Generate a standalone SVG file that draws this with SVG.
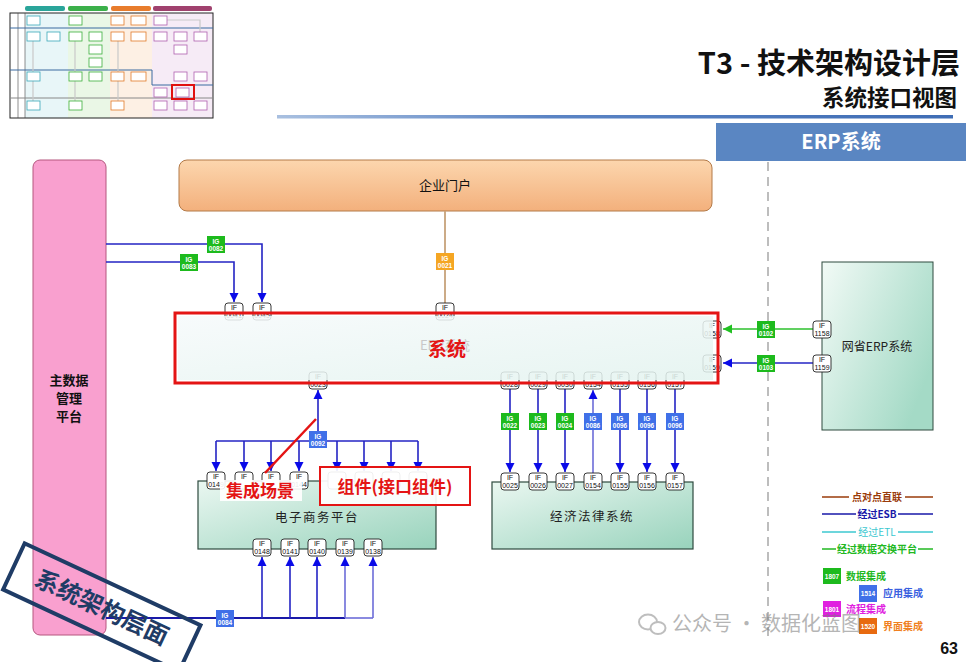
<svg xmlns="http://www.w3.org/2000/svg" width="970" height="662" viewBox="0 0 970 662">
<style>
text{font-family:"Liberation Sans","Noto Sans CJK SC",sans-serif}
.cjk{font-family:"Noto Sans CJK SC","Liberation Sans",sans-serif}
.ifb rect{fill:#fff;stroke:#222;stroke-width:0.9}
.ifb text{font-size:7px;text-anchor:middle;fill:#111}
.ig text{font-size:6.5px;text-anchor:middle;fill:#fff;font-weight:bold}
.igG rect{fill:#1dba1d}
.igB rect{fill:#4070e8}
.igO rect{fill:#f5a623}
.bl{stroke:#2424c4;stroke-width:1.6;fill:none}
.blp{stroke:#6c6cd8;stroke-width:1.6;fill:none}
.gr{stroke:#2cc02c;stroke-width:1.6;fill:none}
.doc{fill:#fff;stroke-width:0.8}
</style>
<defs>
<marker id="aB" viewBox="0 0 10 10" refX="10" refY="5" markerWidth="9" markerHeight="10" markerUnits="userSpaceOnUse" orient="auto"><path d="M0,0 L10,5 L0,10 z" fill="#0a0ae8"/></marker>
<marker id="aG" viewBox="0 0 10 10" refX="10" refY="5" markerWidth="9" markerHeight="10" markerUnits="userSpaceOnUse" orient="auto"><path d="M0,0 L10,5 L0,10 z" fill="#22c022"/></marker>
<linearGradient id="gOr" x1="0" y1="0" x2="0" y2="1"><stop offset="0" stop-color="#fcd6ae"/><stop offset="1" stop-color="#f3b07c"/></linearGradient>
<linearGradient id="gTe" x1="0" y1="0" x2="1" y2="1"><stop offset="0" stop-color="#eaf7f1"/><stop offset="1" stop-color="#98d3bc"/></linearGradient>
<linearGradient id="gEr" x1="0" y1="0" x2="1" y2="0.6"><stop offset="0" stop-color="#f2faf6"/><stop offset="1" stop-color="#a4dac6"/></linearGradient>
<linearGradient id="gMain" x1="0" y1="0" x2="1" y2="1"><stop offset="0" stop-color="#f6fafb"/><stop offset="1" stop-color="#e3f3ef"/></linearGradient>
<linearGradient id="gLine" x1="0" y1="0" x2="1" y2="0"><stop offset="0" stop-color="#a9c0e0"/><stop offset="0.4" stop-color="#5b84c4"/><stop offset="1" stop-color="#3f6db5"/></linearGradient>
</defs>

<!-- thumbnail -->
<g id="thumbnail">
<rect x="25" y="13" width="43" height="105" fill="#e8f6f8"/>
<rect x="68" y="13" width="42" height="105" fill="#eaf7e6"/>
<rect x="110" y="13" width="42" height="105" fill="#fdf0e4"/>
<rect x="152" y="13" width="61" height="105" fill="#f6ebf6"/>
<rect x="25" y="6" width="40" height="5" rx="2" fill="#2aa59a"/>
<rect x="68" y="6" width="40" height="5" rx="2" fill="#3bb04a"/>
<rect x="111" y="6" width="40" height="5" rx="2" fill="#e87c2c"/>
<rect x="153" y="6" width="59" height="5" rx="2" fill="#a0416e"/>
<rect x="10" y="13" width="203" height="105" fill="none" stroke="#222" stroke-width="1"/>
<line x1="18" y1="13" x2="18" y2="118" stroke="#444" stroke-width="0.6"/>
<line x1="25" y1="13" x2="25" y2="118" stroke="#444" stroke-width="0.6"/>
<line x1="10" y1="28" x2="213" y2="28" stroke="#3a6aa0" stroke-width="1"/>
<path d="M10,70 H152 V85 H213" stroke="#3a6aa0" stroke-width="1" fill="none"/>
<line x1="10" y1="98" x2="213" y2="98" stroke="#888" stroke-width="1"/>
<g stroke="#c9c9c9" stroke-width="1.2" fill="none"><path d="M33,41 V101"/><path d="M75,41 V101"/><path d="M118,41 V101"/><path d="M167,20 H200 V40"/></g>
<g class="doc" stroke="#3aa8b8"><rect x="27" y="16" width="13" height="9"/><rect x="27" y="32" width="13" height="9"/><rect x="47" y="32" width="13" height="9"/><rect x="27" y="72" width="13" height="9"/><rect x="27" y="101" width="13" height="9"/></g>
<g class="doc" stroke="#3cb03c"><rect x="69" y="16" width="13" height="9"/><rect x="69" y="32" width="13" height="9"/><rect x="89" y="32" width="13" height="9"/><rect x="89" y="45" width="13" height="9"/><rect x="89" y="58" width="13" height="9"/><rect x="69" y="72" width="13" height="9"/><rect x="89" y="72" width="13" height="9"/><rect x="69" y="101" width="13" height="9"/></g>
<g class="doc" stroke="#e07a2a"><rect x="111" y="16" width="13" height="9"/><rect x="131" y="16" width="15" height="9"/><rect x="111" y="32" width="13" height="9"/><rect x="131" y="32" width="15" height="9"/><rect x="111" y="72" width="13" height="9"/><rect x="131" y="72" width="15" height="9"/><rect x="111" y="101" width="13" height="9"/></g>
<g class="doc" stroke="#b060b0"><rect x="154" y="16" width="13" height="9"/><rect x="154" y="32" width="13" height="9"/><rect x="174" y="32" width="13" height="9"/><rect x="194" y="32" width="13" height="9"/><rect x="174" y="45" width="13" height="9"/><rect x="174" y="72" width="13" height="9"/><rect x="194" y="72" width="13" height="9"/><rect x="154" y="88" width="13" height="9"/><rect x="176" y="88" width="13" height="9"/><rect x="154" y="101" width="13" height="9"/><rect x="174" y="101" width="13" height="9"/><rect x="194" y="101" width="13" height="9"/></g>
<rect x="172" y="85" width="22" height="14" fill="none" stroke="#e01010" stroke-width="2"/>
</g>

<!-- title -->
<g id="title">
<text x="960" y="74" text-anchor="end" class="cjk" font-size="29" font-weight="bold" fill="#111">T3 - 技术架构设计层</text>
<text x="957" y="106" text-anchor="end" class="cjk" font-size="22.5" font-weight="bold" fill="#111">系统接口视图</text>
<rect x="277" y="115" width="676" height="3.5" fill="url(#gLine)"/>
</g>
<g id="erp-header">
<rect x="716" y="123" width="250" height="38" fill="#5a86c2"/>
<text x="841" y="149" text-anchor="middle" class="cjk" font-size="20" font-weight="bold" fill="#fff">ERP系统</text>
</g>

<line x1="768" y1="162" x2="768" y2="640" stroke="#9a9a9a" stroke-width="1.3" stroke-dasharray="9,6"/>

<!-- nodes -->
<g id="mdm">
<rect x="33" y="160" width="73" height="475" rx="7" fill="#f9a0cf" stroke="#b5577f" stroke-width="1"/>
<text x="69" y="385" text-anchor="middle" class="cjk" font-size="13" font-weight="bold" fill="#111">主数据</text>
<text x="69" y="403" text-anchor="middle" class="cjk" font-size="13" font-weight="bold" fill="#111">管理</text>
<text x="69" y="421" text-anchor="middle" class="cjk" font-size="13" font-weight="bold" fill="#111">平台</text>
</g>

<g id="portal">
<rect x="179" y="160" width="533" height="51" rx="8" fill="url(#gOr)" stroke="#b37a48" stroke-width="1"/>
<text x="445" y="190" text-anchor="middle" class="cjk" font-size="13" fill="#111">企业门户</text>
</g>

<g id="ecommerce">
<rect x="198" y="481" width="238" height="68" fill="url(#gTe)" stroke="#2e4a3e" stroke-width="1.2"/>
<text x="317" y="522" text-anchor="middle" class="cjk" font-size="12.5" fill="#222" letter-spacing="1.5">电子商务平台</text>
</g>

<g id="legal">
<rect x="492" y="482" width="201" height="67" fill="url(#gTe)" stroke="#2e4a3e" stroke-width="1.2"/>
<text x="592" y="521" text-anchor="middle" class="cjk" font-size="12.5" fill="#222" letter-spacing="1.5">经济法律系统</text>
</g>

<g id="provincial-erp">
<rect x="822" y="262" width="111" height="168" fill="url(#gEr)" stroke="#2e4a3e" stroke-width="1"/>
<text x="877" y="351" text-anchor="middle" class="cjk" font-size="12" fill="#222">网省ERP系统</text>
</g>

<!-- connectors -->
<g id="connectors">
<path class="bl" d="M106,244 H262 V302" marker-end="url(#aB)"/>
<path class="bl" d="M106,262 H234 V302" marker-end="url(#aB)"/>
<path d="M445,211 V303" stroke="#c7a27a" stroke-width="1.8" fill="none"/>
<path class="gr" d="M813,329 H723" marker-end="url(#aG)"/>
<path class="bl" d="M813,363 H723" marker-end="url(#aB)"/>
<path class="bl" d="M216,441 H418"/>
<path class="bl" d="M318,441 V390" marker-end="url(#aB)"/>
<path class="bl" d="M216,441 V471" marker-end="url(#aB)"/>
<path class="bl" d="M244,441 V471" marker-end="url(#aB)"/>
<path class="bl" d="M271,441 V471" marker-end="url(#aB)"/>
<path class="bl" d="M299,441 V471" marker-end="url(#aB)"/>
<path class="bl" d="M337,441 V471" marker-end="url(#aB)"/>
<path class="bl" d="M364,441 V471" marker-end="url(#aB)"/>
<path class="bl" d="M391,441 V471" marker-end="url(#aB)"/>
<path class="bl" d="M418,441 V471" marker-end="url(#aB)"/>
<path d="M106,618 H345" stroke="#1a1aa8" stroke-width="2" fill="none"/>
<path class="blp" d="M345,618 H373"/>
<path class="bl" d="M262,618 V557" marker-end="url(#aB)"/>
<path class="bl" d="M290,618 V557" marker-end="url(#aB)"/>
<path class="bl" d="M317,618 V557" marker-end="url(#aB)"/>
<path class="blp" d="M345,618 V557" marker-end="url(#aB)"/>
<path class="blp" d="M373,618 V557" marker-end="url(#aB)"/>
<path class="bl" d="M510,389 V472" marker-end="url(#aB)"/>
<path class="bl" d="M538,389 V472" marker-end="url(#aB)"/>
<path class="bl" d="M565,389 V472" marker-end="url(#aB)"/>
<path class="blp" d="M593,473 V390" marker-end="url(#aB)"/>
<path class="bl" d="M620,389 V472" marker-end="url(#aB)"/>
<path class="bl" d="M647,389 V472" marker-end="url(#aB)"/>
<path class="bl" d="M675,389 V472" marker-end="url(#aB)"/>
</g>

<!-- IF boxes that the ERP box overlaps -->
<g id="if-erp">
<g class="ifb" transform="translate(225,303)"><rect width="18" height="17" rx="3"/><text x="9" y="7">IF</text><text x="9" y="15">0041</text></g>
<g class="ifb" transform="translate(253,303)"><rect width="18" height="17" rx="3"/><text x="9" y="7">IF</text><text x="9" y="15">0045</text></g>
<g class="ifb" transform="translate(436,303)"><rect width="18" height="17" rx="3"/><text x="9" y="7">IF</text><text x="9" y="15">0024</text></g>
<g class="ifb" transform="translate(309,372)"><rect width="18" height="17" rx="3"/><text x="9" y="7">IF</text><text x="9" y="15">0023</text></g>
<g class="ifb" transform="translate(501,372)"><rect width="18" height="17" rx="3"/><text x="9" y="7">IF</text><text x="9" y="15">0028</text></g>
<g class="ifb" transform="translate(529,372)"><rect width="18" height="17" rx="3"/><text x="9" y="7">IF</text><text x="9" y="15">0029</text></g>
<g class="ifb" transform="translate(556,372)"><rect width="18" height="17" rx="3"/><text x="9" y="7">IF</text><text x="9" y="15">0030</text></g>
<g class="ifb" transform="translate(584,372)"><rect width="18" height="17" rx="3"/><text x="9" y="7">IF</text><text x="9" y="15">0154</text></g>
<g class="ifb" transform="translate(611,372)"><rect width="18" height="17" rx="3"/><text x="9" y="7">IF</text><text x="9" y="15">0155</text></g>
<g class="ifb" transform="translate(638,372)"><rect width="18" height="17" rx="3"/><text x="9" y="7">IF</text><text x="9" y="15">0156</text></g>
<g class="ifb" transform="translate(666,372)"><rect width="18" height="17" rx="3"/><text x="9" y="7">IF</text><text x="9" y="15">0157</text></g>
<g class="ifb" transform="translate(703,321)"><rect width="18" height="17" rx="3"/><text x="9" y="7">IF</text><text x="9" y="15">0158</text></g>
<g class="ifb" transform="translate(703,355)"><rect width="18" height="17" rx="3"/><text x="9" y="7">IF</text><text x="9" y="15">0159</text></g>
</g>

<g id="erp-system">
<rect x="178" y="316" width="535" height="64" fill="url(#gMain)" fill-opacity="0.86"/>
<text x="445" y="350" text-anchor="middle" class="cjk" font-size="13" fill="#c8c8c8">ERP系统</text>
<rect x="175" y="313" width="543" height="70" fill="none" stroke="#e41414" stroke-width="3"/>
<text x="447" y="356" text-anchor="middle" class="cjk" font-size="19" font-weight="bold" fill="#e41414">系统</text>
</g>

<!-- other IF boxes -->
<g id="if-other">
<g class="ifb" transform="translate(813,321)"><rect width="18" height="17" rx="3"/><text x="9" y="7">IF</text><text x="9" y="15">1158</text></g>
<g class="ifb" transform="translate(813,355)"><rect width="18" height="17" rx="3"/><text x="9" y="7">IF</text><text x="9" y="15">1159</text></g>
<g class="ifb" transform="translate(207,472)"><rect width="18" height="17" rx="3"/><text x="9" y="7">IF</text><text x="9" y="15">0149</text></g>
<g class="ifb" transform="translate(235,472)"><rect width="18" height="17" rx="3"/><text x="9" y="7">IF</text></g>
<g class="ifb" transform="translate(262,472)"><rect width="18" height="17" rx="3"/><text x="9" y="7">IF</text></g>
<g class="ifb" transform="translate(290,472)"><rect width="18" height="17" rx="3"/><text x="9" y="7">IF</text><text x="9" y="15">0144</text></g>
<g class="ifb" transform="translate(328,472)"><rect width="18" height="17" rx="3"/></g>
<g class="ifb" transform="translate(355,472)"><rect width="18" height="17" rx="3"/></g>
<g class="ifb" transform="translate(382,472)"><rect width="18" height="17" rx="3"/></g>
<g class="ifb" transform="translate(409,472)"><rect width="18" height="17" rx="3"/></g>
<g class="ifb" transform="translate(253,539)"><rect width="18" height="17" rx="3"/><text x="9" y="7">IF</text><text x="9" y="15">0148</text></g>
<g class="ifb" transform="translate(281,539)"><rect width="18" height="17" rx="3"/><text x="9" y="7">IF</text><text x="9" y="15">0141</text></g>
<g class="ifb" transform="translate(308,539)"><rect width="18" height="17" rx="3"/><text x="9" y="7">IF</text><text x="9" y="15">0140</text></g>
<g class="ifb" transform="translate(336,539)"><rect width="18" height="17" rx="3"/><text x="9" y="7">IF</text><text x="9" y="15">0139</text></g>
<g class="ifb" transform="translate(364,539)"><rect width="18" height="17" rx="3"/><text x="9" y="7">IF</text><text x="9" y="15">0138</text></g>
<g class="ifb" transform="translate(501,473)"><rect width="18" height="17" rx="3"/><text x="9" y="7">IF</text><text x="9" y="15">0025</text></g>
<g class="ifb" transform="translate(529,473)"><rect width="18" height="17" rx="3"/><text x="9" y="7">IF</text><text x="9" y="15">0026</text></g>
<g class="ifb" transform="translate(556,473)"><rect width="18" height="17" rx="3"/><text x="9" y="7">IF</text><text x="9" y="15">0027</text></g>
<g class="ifb" transform="translate(584,473)"><rect width="18" height="17" rx="3"/><text x="9" y="7">IF</text><text x="9" y="15">0154</text></g>
<g class="ifb" transform="translate(611,473)"><rect width="18" height="17" rx="3"/><text x="9" y="7">IF</text><text x="9" y="15">0155</text></g>
<g class="ifb" transform="translate(638,473)"><rect width="18" height="17" rx="3"/><text x="9" y="7">IF</text><text x="9" y="15">0156</text></g>
<g class="ifb" transform="translate(666,473)"><rect width="18" height="17" rx="3"/><text x="9" y="7">IF</text><text x="9" y="15">0157</text></g>
</g>

<!-- IG labels -->
<g id="ig-labels">
<g class="ig igG" transform="translate(207,236)"><rect width="18" height="17"/><text x="9" y="7.5">IG</text><text x="9" y="15">0082</text></g>
<g class="ig igG" transform="translate(180,254)"><rect width="18" height="17"/><text x="9" y="7.5">IG</text><text x="9" y="15">0083</text></g>
<g class="ig igO" transform="translate(436,253)"><rect width="18" height="17"/><text x="9" y="7.5">IG</text><text x="9" y="15">0021</text></g>
<g class="ig igG" transform="translate(757,321)"><rect width="18" height="17"/><text x="9" y="7.5">IG</text><text x="9" y="15">0102</text></g>
<g class="ig igG" transform="translate(757,355)"><rect width="18" height="17"/><text x="9" y="7.5">IG</text><text x="9" y="15">0103</text></g>
<g class="ig igB" transform="translate(309,431)"><rect width="18" height="17"/><text x="9" y="7.5">IG</text><text x="9" y="15">0092</text></g>
<g class="ig igB" transform="translate(216,610)"><rect width="18" height="17"/><text x="9" y="7.5">IG</text><text x="9" y="15">0084</text></g>
<g class="ig igG" transform="translate(501,413)"><rect width="18" height="17"/><text x="9" y="7.5">IG</text><text x="9" y="15">0022</text></g>
<g class="ig igG" transform="translate(529,413)"><rect width="18" height="17"/><text x="9" y="7.5">IG</text><text x="9" y="15">0023</text></g>
<g class="ig igG" transform="translate(556,413)"><rect width="18" height="17"/><text x="9" y="7.5">IG</text><text x="9" y="15">0024</text></g>
<g class="ig igB" transform="translate(584,413)"><rect width="18" height="17"/><text x="9" y="7.5">IG</text><text x="9" y="15">0086</text></g>
<g class="ig igB" transform="translate(611,413)"><rect width="18" height="17"/><text x="9" y="7.5">IG</text><text x="9" y="15">0096</text></g>
<g class="ig igB" transform="translate(638,413)"><rect width="18" height="17"/><text x="9" y="7.5">IG</text><text x="9" y="15">0096</text></g>
<g class="ig igB" transform="translate(666,413)"><rect width="18" height="17"/><text x="9" y="7.5">IG</text><text x="9" y="15">0096</text></g>
</g>

<!-- annotations -->
<g id="annotations">
<line x1="316" y1="419" x2="265" y2="473" stroke="#e41414" stroke-width="2.5"/>
<rect x="220" y="480" width="82" height="21" fill="#fff" fill-opacity="0.9"/>
<text x="260" y="497" text-anchor="middle" class="cjk" font-size="17" font-weight="bold" fill="#e41414">集成场景</text>
<rect x="320" y="467" width="150" height="38" fill="#fff" fill-opacity="0.92" stroke="#e41414" stroke-width="2"/>
<text x="395" y="493" text-anchor="middle" class="cjk" font-size="17" font-weight="bold" fill="#e41414">组件(接口组件)</text>
</g>

<!-- legend -->
<g id="legend">
<line x1="822" y1="497" x2="933" y2="497" stroke="#9a3b0a" stroke-width="1.3"/>
<rect x="849" y="490" width="56" height="13" fill="#fff"/>
<text x="877" y="501" text-anchor="middle" class="cjk" font-size="10" font-weight="bold" fill="#9a3b0a">点对点直联</text>
<line x1="822" y1="514" x2="933" y2="514" stroke="#1818a8" stroke-width="1.3"/>
<rect x="856" y="507" width="42" height="13" fill="#fff"/>
<text x="877" y="518" text-anchor="middle" class="cjk" font-size="10" font-weight="bold" fill="#1818a8">经过ESB</text>
<line x1="822" y1="532" x2="933" y2="532" stroke="#3cc8d0" stroke-width="1.3"/>
<rect x="856" y="525" width="42" height="13" fill="#fff"/>
<text x="877" y="536" text-anchor="middle" class="cjk" font-size="10" fill="#3cc8d0">经过ETL</text>
<line x1="822" y1="549" x2="933" y2="549" stroke="#22b822" stroke-width="1.3"/>
<rect x="836" y="542" width="82" height="13" fill="#fff"/>
<text x="877" y="553" text-anchor="middle" class="cjk" font-size="10" font-weight="bold" fill="#22b822">经过数据交换平台</text>
<rect x="823" y="568" width="18" height="16" fill="#1dba1d"/>
<text x="832" y="579" text-anchor="middle" font-size="6.5" font-weight="bold" fill="#fff">1807</text>
<text x="846" y="580" class="cjk" font-size="10" font-weight="bold" fill="#22b822">数据集成</text>
<rect x="859" y="585" width="18" height="17" fill="#4070e8"/>
<text x="868" y="596" text-anchor="middle" font-size="6.5" font-weight="bold" fill="#fff">1514</text>
<text x="883" y="597" class="cjk" font-size="10" font-weight="bold" fill="#3a5fe0">应用集成</text>
<rect x="823" y="601" width="18" height="16" fill="#e020e0"/>
<text x="832" y="612" text-anchor="middle" font-size="6.5" font-weight="bold" fill="#fff">1801</text>
<text x="846" y="613" class="cjk" font-size="10" font-weight="bold" fill="#e020e0">流程集成</text>
<rect x="859" y="618" width="18" height="16" fill="#e86a10"/>
<text x="868" y="629" text-anchor="middle" font-size="6.5" font-weight="bold" fill="#fff">1520</text>
<text x="883" y="630" class="cjk" font-size="10" font-weight="bold" fill="#f08020">界面集成</text>
</g>

<text x="958" y="654" text-anchor="end" font-size="16" font-weight="bold" fill="#111">63</text>

<!-- stamp -->
<g id="stamp" transform="translate(102,607) rotate(25)">
<rect x="-97" y="-25" width="194" height="51" fill="none" stroke="#1f3c66" stroke-width="4"/>
<text x="0" y="9" text-anchor="middle" class="cjk" font-size="24" font-weight="bold" fill="#1f3c66">系统架构层面</text>
</g>

<!-- watermark -->
<g id="watermark" opacity="0.55">
<ellipse cx="648" cy="622" rx="9" ry="7.5" fill="none" stroke="#8a8a8a" stroke-width="2"/>
<ellipse cx="658" cy="628" rx="7.5" ry="6" fill="#fff" stroke="#8a8a8a" stroke-width="2"/>
<text x="672" y="631" class="cjk" font-size="20" fill="#7a7a7a">公众号 · 数据化蓝图</text>
</g>
</svg>
